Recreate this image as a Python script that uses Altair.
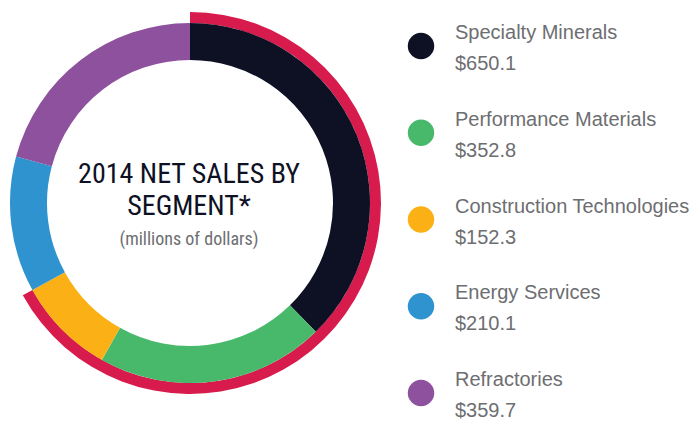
import altair as alt
import pandas as pd

# ---- data ----
segments = ["Specialty Minerals", "Performance Materials", "Construction Technologies",
            "Energy Services", "Refractories"]
sales = [650.1, 352.8, 152.3, 210.1, 359.7]
value_labels = ["$650.1", "$352.8", "$152.3", "$210.1", "$359.7"]
palette = ["#0e1124", "#48b86a", "#fbb116", "#2f93d0", "#8e519e"]

# outer highlight arc covers the first three segments
highlight_parts = ["covered", "rest"]
highlight_values = [650.1 + 352.8 + 152.3, 210.1 + 359.7]

title_lines = ["2014 NET SALES BY", "SEGMENT*"]
subtitle = "(millions of dollars)"

df = pd.DataFrame({"segment": segments, "sales": sales, "label": value_labels,
                   "order": list(range(len(segments)))})
hl = pd.DataFrame({"part": highlight_parts, "v": highlight_values, "order": [0, 1]})

CX, CY = 182, 195
cond_font = "Liberation Sans Narrow, Roboto Condensed, DejaVu Sans Condensed, sans-serif"
gray = "#6d6e71"

color = alt.Color("segment:N", scale=alt.Scale(domain=segments, range=palette), legend=None)

donut = alt.Chart(df).mark_arc(radius=180, radius2=143).encode(
    theta=alt.Theta("sales:Q", stack=True),
    order=alt.Order("order:Q"),
    color=color,
    x=alt.value(CX), y=alt.value(CY),
)

ring = alt.Chart(hl).mark_arc(radius=191, radius2=180, color="#d81b4d").encode(
    theta=alt.Theta("v:Q", stack=True),
    order=alt.Order("order:Q"),
    opacity=alt.Opacity("part:N", scale=alt.Scale(domain=highlight_parts, range=[1, 0]), legend=None),
    x=alt.value(CX), y=alt.value(CY),
)

t1 = alt.Chart(pd.DataFrame({"t": [title_lines[0]]})).mark_text(
    font=cond_font, fontSize=28, color="#0e1124", align="center", baseline="alphabetic"
).encode(text="t:N", x=alt.value(181), y=alt.value(175))
t2 = alt.Chart(pd.DataFrame({"t": [title_lines[1]]})).mark_text(
    font=cond_font, fontSize=28, color="#0e1124", align="center", baseline="alphabetic"
).encode(text="t:N", x=alt.value(181), y=alt.value(207))
t3 = alt.Chart(pd.DataFrame({"t": [subtitle]})).mark_text(
    font=cond_font, fontSize=18, color=gray, align="center", baseline="alphabetic"
).encode(text="t:N", x=alt.value(181), y=alt.value(237))

ypos = alt.Y("segment:N", sort=segments, axis=None,
             scale=alt.Scale(type="point", range=[38, 385], padding=0))

dots = alt.Chart(df).mark_circle(size=700, opacity=1).encode(
    y=ypos, x=alt.value(413), color=color
)
names = alt.Chart(df).mark_text(
    font="Liberation Sans, Arial, sans-serif", fontSize=20, color=gray,
    align="left", baseline="alphabetic", dy=-7
).encode(y=ypos, x=alt.value(447), text="segment:N")
vals = alt.Chart(df).mark_text(
    font="Liberation Sans, Arial, sans-serif", fontSize=20, color=gray,
    align="left", baseline="alphabetic", dy=24
).encode(y=ypos, x=alt.value(447), text="label:N")

chart = alt.layer(ring, donut, t1, t2, t3, dots, names, vals).properties(
    width=683, height=414, padding=0, background="white",
    autosize=alt.AutoSizeParams(type="none")
).configure_view(stroke=None)

chart.save("out.html", embed_options={"renderer": "svg", "actions": False})
